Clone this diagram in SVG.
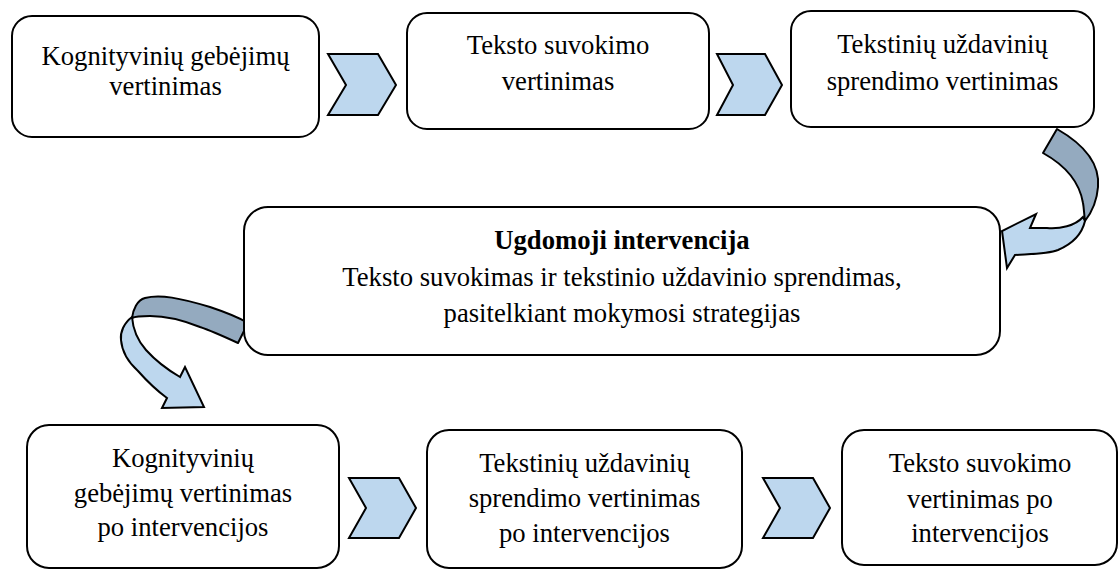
<svg xmlns="http://www.w3.org/2000/svg" width="1119" height="570" viewBox="0 0 1119 570">
  <style>
    .box { fill: #ffffff; stroke: #000000; stroke-width: 2; }
    .chev { fill: #BDD7EE; stroke: #000000; stroke-width: 2; stroke-linejoin: miter; }
    .back { fill: #94AABF; stroke: #000000; stroke-width: 2; stroke-linejoin: round; }
    .front { fill: #BDD7EE; stroke: #000000; stroke-width: 2; stroke-linejoin: miter; }
    .lbl { font-family: 'Liberation Serif', 'DejaVu Serif', serif; font-size: 26.67px; fill: #000000; text-anchor: middle; }
    .bold { font-weight: bold; }
  </style>
  <rect x="0" y="0" width="1119" height="570" fill="#ffffff"/>

  <!-- step connectors -->
  <g id="connectors">
    <polygon class="chev" points="328,54 378,54 396,85 378,115 328,115 346,85"/>
    <polygon class="chev" points="717,54 765,54 782,85 765,115 717,115 733,85"/>
    <polygon class="chev" points="349,478 399,478 416,508 399,538 349,538 366,508"/>
    <polygon class="chev" points="763,478 813,478 830,508 813,538 763,538 780,508"/>

    <!-- curved arrow: top row into the intervention -->
    <g id="curve-right">
      <path class="back" d="M1057,129 C1085,145 1100,165 1098,187 C1097,200 1092,212 1085,221 C1084,214 1084,208 1083,203 C1080,185 1070,168 1043,153 Z"/>
      <path class="front" d="M1083,217 C1075,226 1060,229 1047,228 L1030,228 L1036,214 L1002,231 L1007,268 L1015,255 C1030,254 1048,254 1058,250 C1072,244 1082,234 1085,221 Z"/>
    </g>

    <!-- curved arrow: intervention into the bottom row -->
    <g id="curve-left">
      <path class="back" d="M248,323 L238,343 C225,337 212,331 200,327 C185,321 168,316 150,316 C142,316 136,316 132,318 C133,310 137,300 145,298 C160,294 180,298 210,307 C225,312 238,317 248,323 Z"/>
      <path class="front" d="M132,317 C124,323 120,332 121,340 C122,352 128,362 138,371 C146,380 156,390 167,398 L162,408 L204,407 L185,367 L180,377 C168,370 155,360 146,350 C138,341 133,330 132,317 Z"/>
    </g>
  </g>

  <g id="node-kognityviniu">
    <rect class="box" x="12" y="16" width="307" height="121" rx="20" ry="20"/>
    <text class="lbl" x="165.5" y="65" font-family="Liberation Serif, serif">Kognityvinių gebėjimų</text>
    <text class="lbl" x="165.5" y="95" font-family="Liberation Serif, serif">vertinimas</text>
  </g>

  <g id="node-teksto">
    <rect class="box" x="407" y="13" width="302" height="116" rx="20" ry="20"/>
    <text class="lbl" x="558" y="54">Teksto suvokimo</text>
    <text class="lbl" x="558" y="90">vertinimas</text>
  </g>

  <g id="node-uzdaviniu">
    <rect class="box" x="791" y="11" width="303" height="116" rx="20" ry="20"/>
    <text class="lbl" x="942.5" y="53">Tekstinių uždavinių</text>
    <text class="lbl" x="942.5" y="90">sprendimo vertinimas</text>
  </g>

  <g id="node-intervencija">
    <rect class="box" x="244" y="207" width="756" height="148" rx="24" ry="24"/>
    <text class="lbl bold" x="622" y="249">Ugdomoji intervencija</text>
    <text class="lbl" x="622" y="286">Teksto suvokimas ir tekstinio uždavinio sprendimas,</text>
    <text class="lbl" x="622" y="322">pasitelkiant mokymosi strategijas</text>
  </g>

  <g id="node-kognityviniu-po">
    <rect class="box" x="27" y="425" width="312" height="143" rx="22" ry="22"/>
    <text class="lbl" x="183" y="467">Kognityvinių</text>
    <text class="lbl" x="183" y="502">gebėjimų vertinimas</text>
    <text class="lbl" x="183" y="536">po intervencijos</text>
  </g>

  <g id="node-uzdaviniu-po">
    <rect class="box" x="427" y="430" width="315" height="138" rx="22" ry="22"/>
    <text class="lbl" x="584.5" y="472">Tekstinių uždavinių</text>
    <text class="lbl" x="584.5" y="507">sprendimo vertinimas</text>
    <text class="lbl" x="584.5" y="542">po intervencijos</text>
  </g>

  <g id="node-teksto-po">
    <rect class="box" x="842" y="430" width="275" height="135" rx="22" ry="22"/>
    <text class="lbl" x="980" y="472">Teksto suvokimo</text>
    <text class="lbl" x="980" y="508">vertinimas po</text>
    <text class="lbl" x="980" y="542">intervencijos</text>
  </g>
</svg>
